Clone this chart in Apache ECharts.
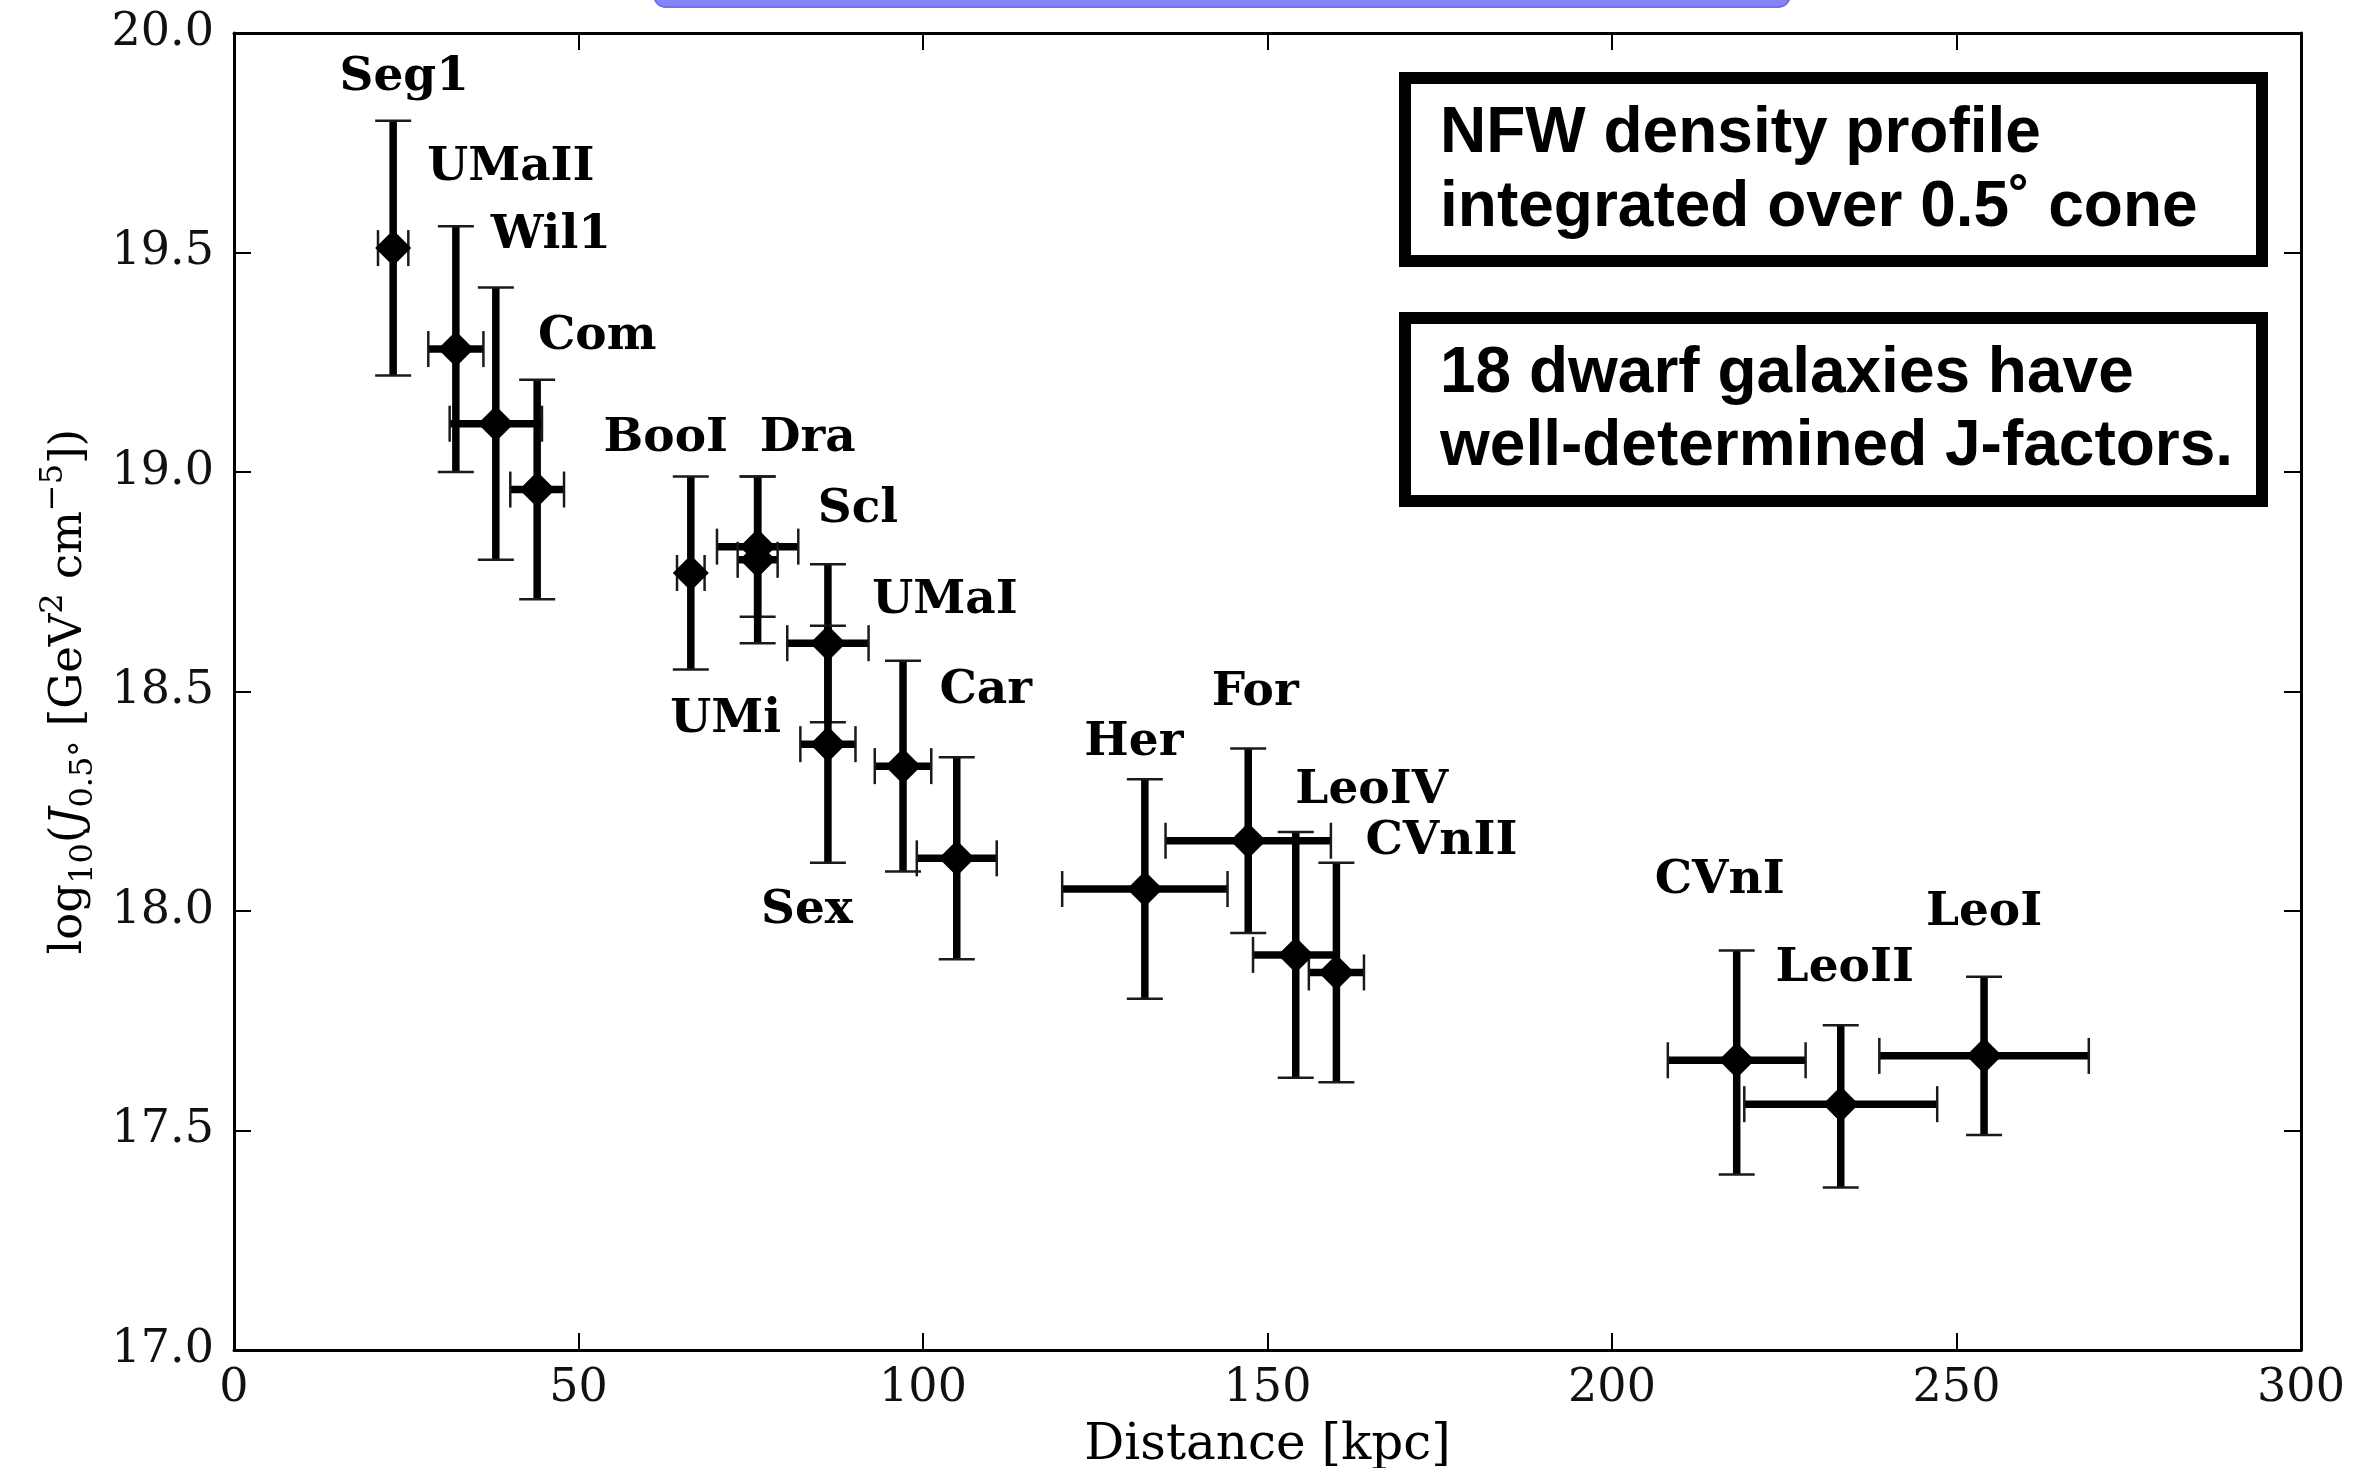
<!DOCTYPE html>
<html><head><meta charset="utf-8">
<script src="https://cdn.jsdelivr.net/npm/echarts@6/dist/echarts.min.js"></script>
<style>html,body{margin:0;padding:0;background:#fff}#c{width:2369px;height:1468px}</style>
</head><body><div id="c"></div>
<script>
// ---- data ----
const galaxies    = ['Seg1','UMaII','Wil1','Com','BooI','Dra','UMi','Scl','Sex','UMaI','Car','Her','For','LeoIV','CVnII','CVnI','LeoII','LeoI'];
const distance    = [23.1, 32.2, 38.0, 44.0, 66.3, 76.0, 76.0, 86.2, 86.2, 97.1, 104.9, 132.2, 147.2, 154.1, 160.0, 218.1, 233.2, 254.0];
const distanceErr = [2.2, 4.0, 6.7, 3.9, 2.0, 5.9, 2.9, 5.9, 4.0, 4.1, 5.8, 12.0, 12.0, 6.2, 4.0, 10.0, 14.0, 15.2];
const logJ        = [19.51, 19.28, 19.11, 18.96, 18.77, 18.83, 18.80, 18.61, 18.38, 18.33, 18.12, 18.05, 18.16, 17.90, 17.86, 17.66, 17.56, 17.67];
const logJUpper   = [19.80, 19.56, 19.42, 19.21, 18.99, 18.99, 18.99, 18.79, 18.65, 18.57, 18.35, 18.30, 18.37, 18.18, 18.11, 17.91, 17.74, 17.85];
const logJLower   = [19.22, 19.00, 18.80, 18.71, 18.55, 18.67, 18.61, 18.43, 18.11, 18.09, 17.89, 17.80, 17.95, 17.62, 17.61, 17.40, 17.37, 17.49];
const boxText1    = ['NFW density profile', 'integrated over 0.5\u02DA cone'];
const boxText2    = ['18 dwarf galaxies have', 'well-determined J-factors.'];

// ---- label placement (pixel offsets from each marker) ----
const labelOffsets = [[11,-170],[55,-181],[55,-188],[60,-153],[-25,-134],[50,-108],[-32,160],[30,-133],[-21,167],[42,-165],[29,-168],[-11,-146],[7,-148],[76,-164],[105,-131],[-17,-179],[4,-135],[0,-143]];

const chart = echarts.init(document.getElementById('c'), null, {renderer:'canvas'});
const serif = 'DejaVu Serif';

const errData = distance.map((d,i)=>[d, logJ[i], distanceErr[i], logJUpper[i], logJLower[i]]);
const ptData = distance.map((d,i)=>({value:[d, logJ[i]], name:galaxies[i], label:{offset:labelOffsets[i]}}));

function axisCommon(){
  return {
    axisLine:{show:true, onZero:false, lineStyle:{color:'#000', width:3}},
    axisTick:{show:true, inside:true, length:17, lineStyle:{color:'#000', width:2}},
    splitLine:{show:false}
  };
}

const option = {
  backgroundColor:'#fff',
  animation:false,
  grid:{left:234, right:68, top:33, bottom:118, containLabel:false, outerBoundsMode:'none'},
  xAxis:[
    Object.assign({type:'value', min:0, max:300, interval:50, position:'bottom',
      name:'Distance [kpc]', nameLocation:'middle', nameGap:71,
      nameTextStyle:{fontFamily:serif, fontSize:50, color:'#000'},
      axisLabel:{fontFamily:serif, fontSize:46, color:'#111', margin:16}}, axisCommon()),
    Object.assign({type:'value', min:0, max:300, interval:50, position:'top',
      axisLabel:{show:false}}, axisCommon())
  ],
  yAxis:[
    Object.assign({type:'value', min:17, max:20, interval:0.5, position:'left',
      name:'log{sub|10}({it|J}{sub|0.5°} [GeV{sup|2} cm{sup|−5}])',
      nameLocation:'middle', nameRotate:90, nameGap:134,
      nameTextStyle:{fontFamily:serif, fontSize:45, color:'#000', lineHeight:62,
        rich:{
          sub:{fontFamily:serif, fontSize:32, verticalAlign:'bottom', lineHeight:62, color:'#000'},
          sup:{fontFamily:serif, fontSize:32, verticalAlign:'top', lineHeight:62, color:'#000'},
          it:{fontFamily:serif, fontSize:45, fontStyle:'italic', lineHeight:62, color:'#000'}
        }},
      axisLabel:{fontFamily:serif, fontSize:46, color:'#111', margin:20,
        formatter:v=>v.toFixed(1)}}, axisCommon()),
    Object.assign({type:'value', min:17, max:20, interval:0.5, position:'right',
      axisLabel:{show:false}}, axisCommon())
  ],
  series:[
    {
      type:'custom', xAxisIndex:0, yAxisIndex:0, z:2,
      encode:{x:0, y:1},
      data:errData,
      renderItem:function(params, api){
        const x=api.value(0), y=api.value(1), xe=api.value(2), yu=api.value(3), yl=api.value(4);
        const l=api.coord([x-xe,y]), r=api.coord([x+xe,y]);
        const t=api.coord([x,yu]), b=api.coord([x,yl]);
        const cap=18, lw=7.5, cw=2.5, col='#000', capCol='#1a1a1a';
        return {type:'group', children:[
          {type:'line', shape:{x1:l[0],y1:l[1],x2:r[0],y2:r[1]}, style:{stroke:col,lineWidth:lw}},
          {type:'line', shape:{x1:t[0],y1:t[1],x2:b[0],y2:b[1]}, style:{stroke:col,lineWidth:lw}},
          {type:'line', shape:{x1:l[0],y1:l[1]-cap,x2:l[0],y2:l[1]+cap}, style:{stroke:capCol,lineWidth:cw}},
          {type:'line', shape:{x1:r[0],y1:r[1]-cap,x2:r[0],y2:r[1]+cap}, style:{stroke:capCol,lineWidth:cw}},
          {type:'line', shape:{x1:t[0]-cap,y1:t[1],x2:t[0]+cap,y2:t[1]}, style:{stroke:capCol,lineWidth:cw}},
          {type:'line', shape:{x1:b[0]-cap,y1:b[1],x2:b[0]+cap,y2:b[1]}, style:{stroke:capCol,lineWidth:cw}}
        ]};
      }
    },
    {
      type:'scatter', xAxisIndex:0, yAxisIndex:0, z:3,
      symbol:'diamond', symbolSize:36,
      itemStyle:{color:'#000', opacity:1},
      data:ptData,
      label:{show:true, position:'inside', formatter:'{b}', fontFamily:serif, fontWeight:'bold',
        fontSize:47, color:'#000', opacity:1, textBorderWidth:0, align:'center', verticalAlign:'middle'},
      emphasis:{disabled:true}
    }
  ],
  graphic:[
    {type:'rect', shape:{x:654, y:-30, width:1136, height:37, r:12},
      style:{fill:'#8585f7', stroke:'#6f6ff0', lineWidth:2}, z:10},
    {type:'rect', shape:{x:1405, y:78, width:857, height:183},
      style:{fill:'#fff', stroke:'#000', lineWidth:12}, z:10},
    {type:'rect', shape:{x:1405, y:318, width:857, height:183},
      style:{fill:'#fff', stroke:'#000', lineWidth:12}, z:10},
    {type:'text', x:1440, y:134, z:11, style:{text:boxText1[0], font:'bold 64px "Liberation Sans"', fill:'#000', verticalAlign:'middle'}},
    {type:'text', x:1440, y:208, z:11, style:{text:boxText1[1], font:'bold 64px "Liberation Sans"', fill:'#000', verticalAlign:'middle'}},
    {type:'text', x:1440, y:374, z:11, style:{text:boxText2[0], font:'bold 64px "Liberation Sans"', fill:'#000', verticalAlign:'middle'}},
    {type:'text', x:1440, y:447, z:11, style:{text:boxText2[1], font:'bold 64px "Liberation Sans"', fill:'#000', verticalAlign:'middle'}}
  ]
};
chart.setOption(option);
</script>
</body></html>
